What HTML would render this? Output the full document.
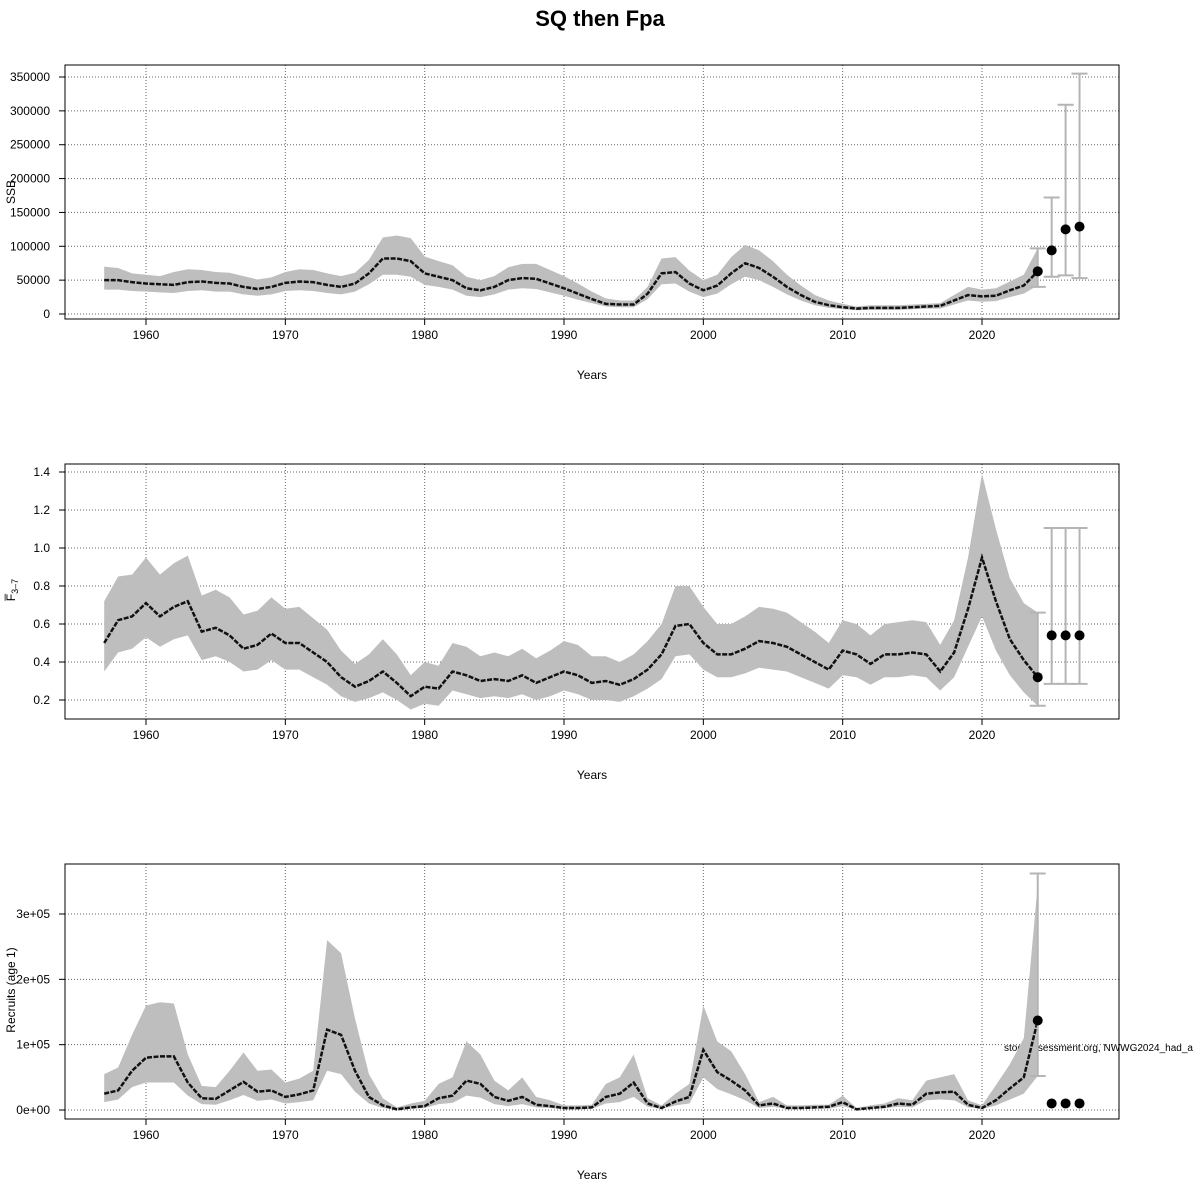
<!DOCTYPE html>
<html><head><meta charset="utf-8"><style>
body{margin:0;background:#fff}
svg{font-family:"Liberation Sans",sans-serif;display:block}
</style></head><body>
<svg id="c" width="1200" height="1200" viewBox="0 0 1200 1200">
<text x="600" y="26" text-anchor="middle" font-size="22" font-weight="bold">SQ then Fpa</text>
<text x="1004" y="1051" font-size="10">stockassessment.org, NWWG2024_had_a</text>
</svg>
<script>
const years = [];for(let y=1957;y<=2024;y++)years.push(y);
const ssbMean=[50,50,47,45,44,43,47,48,46,45,40,37,40,46,48,47,43,40,45,60,82,82,78,60,55,50,38,35,40,50,53,52,45,38,30,22,15,14,14,30,60,62,45,35,42,60,75,68,55,40,28,18,13,10,8,9,9,9,10,11,12,20,28,26,27,35,42,63];
const ssbUp=[70,68,60,58,56,62,66,65,62,61,56,51,54,62,66,65,60,56,61,80,113,116,112,85,78,72,55,50,56,69,74,74,65,56,45,33,23,20,20,40,82,84,64,50,58,84,102,94,78,58,42,28,20,15,11,13,13,13,14,15,16,28,40,36,38,48,58,97];
const ssbLo=[36,36,34,33,32,31,34,35,33,33,29,27,29,34,35,34,31,29,33,44,58,58,55,43,40,36,27,25,29,36,38,37,32,27,21,16,11,10,10,22,44,45,33,25,30,44,55,50,40,29,20,13,9,7,5.5,6,6,6,7,8,8,14,20,18,19,25,30,42];
const ssbProjYears=[2024,2025,2026,2027];
const ssbProj=[63,94,125,129];
const ssbProjLo=[40,55,57,53];
const ssbProjHi=[97,172,309,355];

const fMean=[0.50,0.62,0.64,0.71,0.64,0.69,0.72,0.56,0.58,0.54,0.47,0.49,0.55,0.50,0.50,0.45,0.40,0.32,0.27,0.30,0.35,0.29,0.22,0.27,0.26,0.35,0.33,0.30,0.31,0.30,0.33,0.29,0.32,0.35,0.33,0.29,0.30,0.28,0.31,0.36,0.44,0.59,0.60,0.50,0.44,0.44,0.47,0.51,0.50,0.48,0.44,0.40,0.36,0.46,0.44,0.39,0.44,0.44,0.45,0.44,0.35,0.45,0.68,0.95,0.72,0.52,0.41,0.32];
const fUp=[0.72,0.85,0.86,0.95,0.86,0.92,0.96,0.75,0.78,0.74,0.65,0.67,0.74,0.68,0.69,0.63,0.57,0.46,0.39,0.44,0.52,0.44,0.33,0.40,0.38,0.50,0.48,0.43,0.45,0.43,0.47,0.42,0.46,0.51,0.49,0.43,0.43,0.40,0.44,0.51,0.60,0.80,0.80,0.69,0.60,0.60,0.64,0.69,0.68,0.66,0.61,0.56,0.50,0.62,0.60,0.54,0.60,0.61,0.62,0.61,0.49,0.62,0.95,1.39,1.10,0.84,0.71,0.66];
const fLo=[0.35,0.45,0.47,0.53,0.48,0.52,0.54,0.41,0.43,0.40,0.35,0.36,0.41,0.36,0.36,0.32,0.28,0.22,0.19,0.21,0.24,0.20,0.15,0.18,0.17,0.25,0.23,0.21,0.22,0.21,0.23,0.20,0.22,0.25,0.23,0.20,0.20,0.19,0.22,0.26,0.31,0.43,0.44,0.36,0.32,0.32,0.34,0.37,0.36,0.35,0.32,0.29,0.26,0.33,0.32,0.28,0.32,0.32,0.33,0.32,0.25,0.32,0.48,0.64,0.46,0.33,0.24,0.17];
const fProjYears=[2024,2025,2026,2027];
const fProj=[0.32,0.54,0.54,0.54];
const fProjLo=[0.17,0.285,0.285,0.285];
const fProjHi=[0.66,1.105,1.105,1.105];

const recMean=[25,30,60,80,82,82,42,18,17,30,43,28,30,20,24,30,123,115,60,20,7,1,4,6,18,22,45,40,20,14,20,8,6,3,3,4,20,25,42,10,3,13,20,92,58,45,30,7,10,3,3,4,5,12,1,3,5,10,8,25,27,28,8,3,15,33,50,137];
const recUp=[55,65,115,160,165,163,85,37,35,60,88,60,62,42,48,60,260,240,140,55,18,4,10,14,40,50,105,85,45,30,50,20,15,7,7,8,40,50,85,18,7,25,40,160,105,90,55,12,20,7,7,8,8,22,3,7,10,18,15,45,50,55,15,7,38,70,110,345];
const recLo=[12,16,35,42,42,42,22,9,8,15,23,14,16,10,12,15,60,55,28,10,3,0.3,2,3,9,11,22,19,9,6,9,4,3,1,1,2,10,12,20,5,1.5,7,10,50,32,24,15,3,5,1.5,1.5,2,2,6,0.3,1.5,2.5,5,4,15,16,15,4,1.5,7,16,25,52];
const recProjYears=[2024,2025,2026,2027];
const recProj=[137,10,10,10];
const recProjLo=[52,10,10,10];
const recProjHi=[362,10,10,10];

const xTicks=[1960,1970,1980,1990,2000,2010,2020];
const ssbTicks=[0,50000,100000,150000,200000,250000,300000,350000];
const fTicks=[0.2,0.4,0.6,0.8,1.0,1.2,1.4];
const recTicks=[0,100000,200000,300000];
const recTickLabels=["0e+00","1e+05","2e+05","3e+05"];

const svg=document.getElementById('c');
const NS='http://www.w3.org/2000/svg';
function mk(tag,attrs,parent){const e=document.createElementNS(NS,tag);for(const k in attrs)e.setAttribute(k,attrs[k]);(parent||svg).appendChild(e);return e;}
const X=y=>146+(y-1960)*(836/60);

function panel(o){
  const g=mk('g',{});
  
  
  const Y=v=>o.y0+(v-o.v0)*(o.y1-o.y0)/(o.v1-o.v0);
  // grid
  xTicks.forEach(t=>{const l=mk('line',{x1:X(t),x2:X(t),y1:o.top,y2:o.bot,stroke:'#666','stroke-dasharray':'1,2','stroke-width':1},g);
    });
  o.ticks.forEach(t=>{const l=mk('line',{x1:65,x2:1119,y1:Y(t),y2:Y(t),stroke:'#666','stroke-dasharray':'1,2','stroke-width':1},g);
    });
  // band
  let d='M'+years.map((yr,i)=>X(yr)+','+Y(o.up[i]*o.s)).join('L');
  for(let i=years.length-1;i>=0;i--)d+='L'+X(years[i])+','+Y(o.lo[i]*o.s);
  const band=mk('path',{d:d+'Z',fill:'#bebebe'},g);
  
  const ln=mk('path',{d:'M'+years.map((yr,i)=>X(yr)+','+Y(o.mean[i]*o.s)).join('L'),fill:'none',stroke:'#111','stroke-width':2.5,'stroke-dasharray':'5,1.5'},g);
  
  // projections
  o.py.forEach((yr,i)=>{
    const x=X(yr);
    if(o.phi[i]!==o.plo[i]){
      const eb=mk('g',{stroke:'#b4b4b4','stroke-width':2},g);
      
      mk('line',{x1:x,x2:x,y1:Y(o.plo[i]*o.s),y2:Y(o.phi[i]*o.s)},eb);
      mk('line',{x1:x-8,x2:x+8,y1:Y(o.plo[i]*o.s),y2:Y(o.plo[i]*o.s)},eb);
      mk('line',{x1:x-8,x2:x+8,y1:Y(o.phi[i]*o.s),y2:Y(o.phi[i]*o.s)},eb);
    }
    const c=mk('circle',{cx:x,cy:Y(o.p[i]*o.s),r:5,fill:'#000'},g);
    
  });
  // box
  const b=mk('rect',{x:65,y:o.top,width:1054,height:o.bot-o.top,fill:'none',stroke:'#000','stroke-width':1},g);
  
  xTicks.forEach(t=>{mk('line',{x1:X(t),x2:X(t),y1:o.bot,y2:o.bot+6,stroke:'#000'},g);
    const tx=mk('text',{x:X(t),y:o.bot+20,'text-anchor':'middle','font-size':12},g);tx.textContent=t;
    });
  o.ticks.forEach((t,i)=>{mk('line',{x1:59,x2:65,y1:Y(t),y2:Y(t),stroke:'#000'},g);
    const tx=mk('text',{x:50,y:Y(t)+4,'text-anchor':'end','font-size':12},g);tx.textContent=o.labels[i];
    });
  const xt=mk('text',{x:592,y:o.bot+60,'text-anchor':'middle','font-size':12},g);xt.textContent='Years';
  
  const yt=mk('text',{x:0,y:0,'text-anchor':'middle','font-size':12,transform:`translate(15,${o.ytc}) rotate(-90)`},g);
  yt.innerHTML=o.ytitle;
  
}
panel({name:'ssb',top:65,bot:319,y0:314,y1:77,v0:0,v1:350000,s:1000,mean:ssbMean,up:ssbUp,lo:ssbLo,py:ssbProjYears,p:ssbProj,plo:ssbProjLo,phi:ssbProjHi,
  ticks:ssbTicks,labels:ssbTicks.map(String),ytitle:'SSB',ytc:192});
panel({name:'fbar',top:464,bot:719,y0:700,y1:472,v0:0.2,v1:1.4,s:1,mean:fMean,up:fUp,lo:fLo,py:fProjYears,p:fProj,plo:fProjLo,phi:fProjHi,
  ticks:fTicks,labels:fTicks.map(v=>v.toFixed(1)),ytitle:'F\u0305<tspan font-size="9" dy="3">3\u20137</tspan>',ytc:590});
panel({name:'recruits',top:864,bot:1119,y0:1110,y1:914,v0:0,v1:300000,s:1000,mean:recMean,up:recUp,lo:recLo,py:recProjYears,p:recProj,plo:recProjLo,phi:recProjHi,
  ticks:recTicks,labels:recTickLabels,ytitle:'Recruits (age 1)',ytc:990});
</script>
</body></html>
